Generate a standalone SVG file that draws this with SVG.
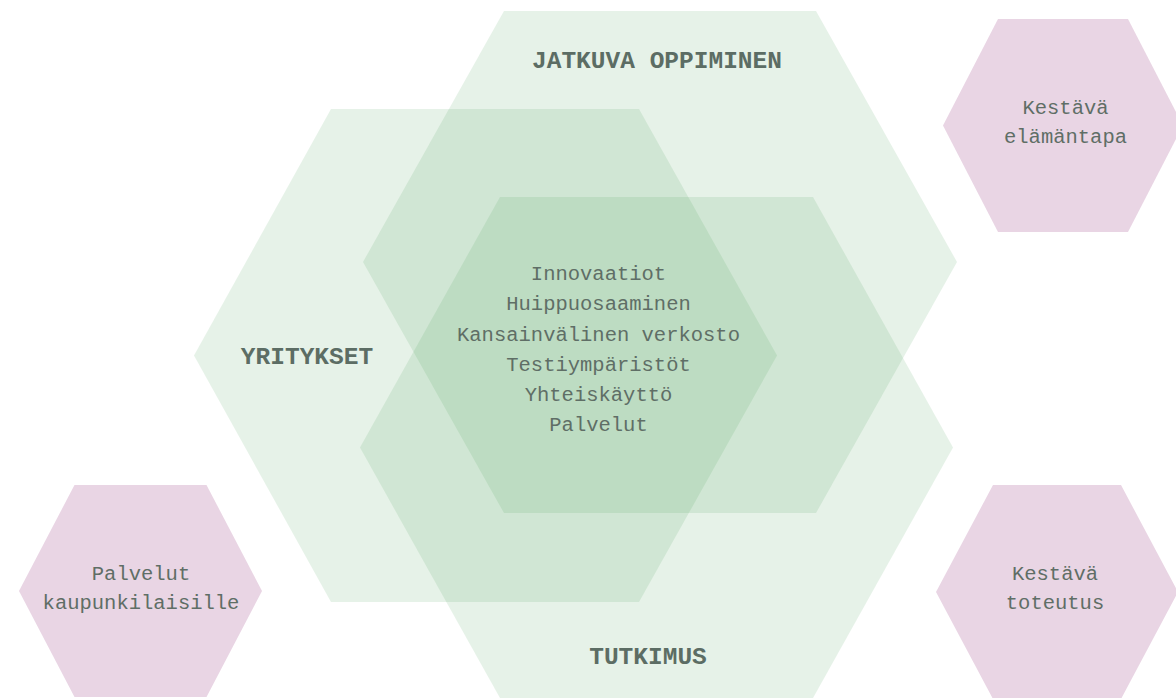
<svg xmlns="http://www.w3.org/2000/svg" width="1176" height="698" viewBox="0 0 1176 698">
<style>
.big{fill:#3f9b4e;fill-opacity:0.13}
.pink{fill:#e9d5e4}
.t{font-family:"Liberation Mono","DejaVu Sans Mono",monospace;font-size:20.5px;fill:#5f6e66;text-anchor:middle}
.b{font-family:"Liberation Mono","DejaVu Sans Mono",monospace;font-size:24.5px;font-weight:bold;fill:#5c6d64;text-anchor:middle}
</style>
<rect width="1176" height="698" fill="#ffffff"/>
<g id="jatkuva-oppiminen">
<polygon class="big" points="504,11 816,11 957,262 816,513 504,513 363,262"/>
<text class="b" x="657" y="68">JATKUVA OPPIMINEN</text>
</g>
<g id="yritykset">
<polygon class="big" points="331,109 639,109 777,355.5 639,602 331,602 194,355.5"/>
<text class="b" x="307" y="364">YRITYKSET</text>
</g>
<g id="tutkimus">
<polygon class="big" points="500,197 813,197 953,447.5 813,698 500,698 360,447.5"/>
<text class="b" x="648" y="664">TUTKIMUS</text>
</g>
<g id="ydin">
<text class="t" x="598.5" y="280">Innovaatiot</text>
<text class="t" x="598.5" y="310">Huippuosaaminen</text>
<text class="t" x="598.5" y="340.5">Kansainvälinen verkosto</text>
<text class="t" x="598.5" y="370.5">Testiympäristöt</text>
<text class="t" x="598.5" y="401">Yhteiskäyttö</text>
<text class="t" x="598.5" y="431">Palvelut</text>
</g>
<g id="kestava-elamantapa">
<polygon class="pink" points="998,19 1128,19 1183,125.5 1128,232 998,232 943,125.5"/>
<text class="t" x="1065.5" y="114">Kestävä</text>
<text class="t" x="1065.5" y="143">elämäntapa</text>
</g>
<g id="palvelut-kaupunkilaisille">
<polygon class="pink" points="74.5,485 206.5,485 262,591 206.5,697 74.5,697 19,591"/>
<text class="t" x="141" y="580">Palvelut</text>
<text class="t" x="141" y="609">kaupunkilaisille</text>
</g>
<g id="kestava-toteutus">
<polygon class="pink" points="993,485 1121,485 1178,592 1121,699 993,699 936,592"/>
<text class="t" x="1055" y="580">Kestävä</text>
<text class="t" x="1055" y="609">toteutus</text>
</g>
</svg>
